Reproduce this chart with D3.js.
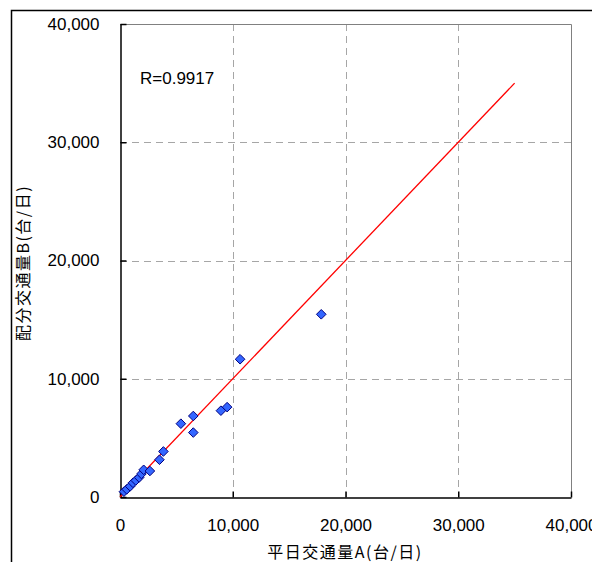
<!DOCTYPE html>
<html>
<head>
<meta charset="utf-8">
<script src="https://cdn.jsdelivr.net/npm/d3@7"></script>
<style>
  body { margin: 0; background: #fff; }
  text { font-family: "Liberation Sans", Arial, sans-serif; fill: #000; }
  .jp { font-family: "Noto Sans CJK JP", sans-serif; }
</style>
</head>
<body>
<script>
// chart data
var xValues = [350, 600, 900, 1150, 1400, 1700, 1900, 2100, 2650, 3500, 3850, 5400, 6500, 6500, 8950, 9500, 10650, 17850];
var yValues = [450, 650, 900, 1200, 1400, 1650, 1950, 2300, 2200, 3150, 3850, 6200, 6850, 5450, 7300, 7600, 11650, 15450];
var tickValues = [0, 10000, 20000, 30000, 40000];
var fitLine = [[0, 0], [35000, 35000]];
var rLabel = 'R=0.9917';
var xTitle = '平日交通量A(台/日)';
var yTitle = '配分交通量B(台/日)';

var width = 592;
var height = 562;
var plot = {left: 120, top: 24, right: 571, bottom: 497};

var svg = d3.select('body').append('svg')
  .attr('width', width)
  .attr('height', height);

// outer frame
svg.append('path')
  .attr('d', 'M11.5,' + height + 'V10.5H' + width)
  .attr('fill', 'none')
  .attr('stroke', '#000')
  .attr('stroke-width', 1.5);

var x = d3.scaleLinear().domain([0, 40000]).range([plot.left, plot.right]);
var y = d3.scaleLinear().domain([0, 40000]).range([plot.bottom, plot.top]);

// grid
svg.selectAll('line.vgrid')
  .data(tickValues.slice(1, -1))
  .enter().append('line')
  .attr('class', 'vgrid')
  .attr('x1', function(d) { return Math.round(x(d)) + 0.5; })
  .attr('x2', function(d) { return Math.round(x(d)) + 0.5; })
  .attr('y1', plot.top)
  .attr('y2', plot.bottom)
  .attr('stroke', '#a6a6a6')
  .attr('stroke-dasharray', '7,5');

svg.selectAll('line.hgrid')
  .data(tickValues.slice(1, -1))
  .enter().append('line')
  .attr('class', 'hgrid')
  .attr('y1', function(d) { return Math.round(y(d)) + 0.5; })
  .attr('y2', function(d) { return Math.round(y(d)) + 0.5; })
  .attr('x1', plot.left)
  .attr('x2', plot.right)
  .attr('stroke', '#a6a6a6')
  .attr('stroke-dasharray', '7,5');

// plot border top/right
svg.append('path')
  .attr('d', 'M' + plot.left + ',' + (plot.top + 0.5) + 'H' + (plot.right + 0.5) + 'V' + plot.bottom)
  .attr('fill', 'none')
  .attr('stroke', '#808080');

// axes
var fmt = d3.format(',');
var xAxis = svg.append('g')
  .attr('transform', 'translate(0,' + (plot.bottom + 0.5) + ')')
  .call(d3.axisBottom(x).tickValues(tickValues).tickFormat(fmt).tickSizeInner(-6).tickSizeOuter(0).tickPadding(22));
var yAxis = svg.append('g')
  .attr('transform', 'translate(' + (plot.left + 0.5) + ',0)')
  .call(d3.axisLeft(y).tickValues(tickValues).tickFormat(fmt).tickSizeInner(-6).tickSizeOuter(0).tickPadding(22));

[xAxis, yAxis].forEach(function(a) {
  a.select('.domain').attr('stroke', '#000').attr('stroke-width', 1.5);
  a.selectAll('.tick line').attr('stroke', '#000').attr('stroke-width', 1.5);
  a.selectAll('.tick text')
    .style('font-family', '"Liberation Sans", Arial, sans-serif')
    .style('font-size', '17px')
    .attr('fill', '#000');
});
xAxis.selectAll('.tick text').attr('dy', '0.71em').attr('y', 21);
yAxis.selectAll('.tick text').attr('x', -21);

// fit line
svg.append('line')
  .attr('x1', x(fitLine[0][0]))
  .attr('y1', y(fitLine[0][1]))
  .attr('x2', x(fitLine[1][0]))
  .attr('y2', y(fitLine[1][1]))
  .attr('stroke', '#ff0000')
  .attr('stroke-width', 1.3);

// points
var pts = xValues.map(function(v, i) { return {x: v, y: yValues[i]}; });
svg.selectAll('path.pt')
  .data(pts)
  .enter().append('path')
  .attr('class', 'pt')
  .attr('d', 'M0,-4.8L4.8,0L0,4.8L-4.8,0Z')
  .attr('transform', function(d) { return 'translate(' + x(d.x) + ',' + y(d.y) + ')'; })
  .attr('fill', '#3366ff')
  .attr('stroke', '#000080')
  .attr('stroke-width', 1);

// labels
svg.append('text')
  .attr('x', 140)
  .attr('y', 78)
  .attr('dy', '0.35em')
  .style('font-size', '17px')
  .text(rLabel);

svg.append('text')
  .attr('class', 'jp')
  .attr('x', 345)
  .attr('y', 552)
  .attr('dy', '0.35em')
  .attr('text-anchor', 'middle')
  .style('font-size', '16px')
  .style('letter-spacing', '1.5px')
  .text(xTitle);

svg.append('text')
  .attr('class', 'jp')
  .attr('transform', 'translate(23,263) rotate(-90)')
  .attr('dy', '0.35em')
  .attr('text-anchor', 'middle')
  .style('font-size', '16px')
  .style('letter-spacing', '1.5px')
  .text(yTitle);
</script>
</body>
</html>
